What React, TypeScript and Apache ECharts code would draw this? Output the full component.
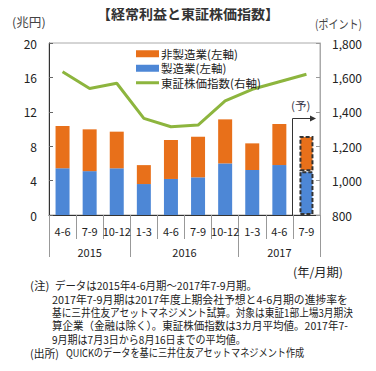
import React, { useEffect, useRef } from "react";
import * as echarts from "echarts";

const categories = ["4-6", "7-9", "10-12", "1-3", "4-6", "7-9", "10-12", "1-3", "4-6", "7-9"];
const manufacturing = [5.43, 5.1, 5.43, 3.6, 4.19, 4.38, 6.0, 5.23, 5.81, 5.1];
const nonManufacturing = [4.92, 4.86, 4.26, 2.2, 4.53, 4.72, 5.12, 3.1, 4.77, 4.09];
const topix = [1633, 1536, 1566, 1362, 1313, 1323, 1463, 1531, 1575, 1618];
const years = ["2015", "2016", "2017"];
const yearCenters = [1.5, 5, 8.5];
const yearBounds = [0, 3, 7, 10];
const forecastIndex = 9;

const FONT = "'Noto Sans CJK JP', 'Noto Sans', sans-serif";
const BLUE = "#4d87d6";
const ORANGE = "#e8701a";
const GREEN = "#8db53e";

export default function App() {
  const ref = useRef<HTMLDivElement>(null);
  useEffect(() => {
    if (!ref.current) return;
    const chart = echarts.init(ref.current, undefined, { renderer: "svg" });
    const ctx = document.createElement("canvas").getContext("2d")!;
    const dashed = {
      borderColor: "#333",
      borderWidth: 2,
      borderType: [4, 2] as any,
    };
    const manuData = manufacturing.map((v, i) =>
      i === forecastIndex ? { value: v, itemStyle: { color: BLUE, ...dashed } } : v
    );
    const nonData = nonManufacturing.map((v, i) =>
      i === forecastIndex ? { value: v, itemStyle: { color: ORANGE, ...dashed } } : v
    );
    const fitText = (
      t: string,
      x0: number,
      x1: number,
      y: number,
      size: number,
      fill = "#222"
    ) => {
      const font = `${size}px ${FONT}`;
      ctx.font = font;
      const w = ctx.measureText(t).width || 1;
      const s = Math.min(1.05, (x1 - x0) / w);
      return {
        type: "text",
        x: x0,
        y,
        scaleX: s,
        style: { text: t, font, fill, textVerticalAlign: "middle" },
      };
    };
    // [text, left x, right x, y]
    const noteLines: [string, number, number, number][] = [
      ["(注)", 30, 50, 285],
      ["データは2015年4-6月期～2017年7-9月期。", 55, 257, 285],
      ["2017年7-9月期は2017年度上期会社予想と4-6月期の進捗率を", 52, 348, 298.5],
      ["基に三井住友アセットマネジメント試算。対象は東証1部上場3月期決", 52, 353, 312],
      ["算企業（金融は除く）。東証株価指数は3カ月平均値。2017年7-", 52, 348, 325.5],
      ["9月期は7月3日から8月16日までの平均値。", 52, 246, 339],
      ["(出所)", 30, 59, 352.5],
      ["QUICKのデータを基に三井住友アセットマネジメント作成", 66, 305, 352.5],
    ];
    const notes = noteLines.map(([t, x0, x1, y]) => fitText(t, x0, x1, y, 11));
    chart.setOption({
      animation: false,
      textStyle: { fontFamily: FONT },
      grid: {
        left: 49,
        right: 56,
        top: 43,
        bottom: 156,
        show: true,
        borderColor: "#aaa",
        borderWidth: 1,
        backgroundColor: "transparent",
      },
      legend: {
        orient: "vertical",
        left: 131,
        top: 43,
        itemWidth: 23,
        itemHeight: 7,
        itemGap: 3,
        data: [
          { name: "非製造業(左軸)", icon: "rect" },
          { name: "製造業(左軸)", icon: "rect" },
          {
            name: "東証株価指数(右軸)",
            icon: "path://M0,0L0.01,0ZM0,2H23V5H0ZM23,7L22.99,7Z",
          },
        ],
        textStyle: {
          fontSize: 11.5,
          lineHeight: 11.5,
          color: "#222",
          fontFamily: FONT,
          padding: [0, 0, 0, -3],
        },
      },
      xAxis: [
        {
          type: "category",
          data: categories,
          axisLine: { lineStyle: { color: "#333", width: 1 } },
          axisTick: { show: true, length: 24, interval: 0, lineStyle: { color: "#999" } },
          axisLabel: { interval: 0, fontSize: 11, color: "#222", margin: 10, fontFamily: FONT },
        },
        {
          type: "value",
          min: 0,
          max: 10,
          position: "bottom",
          axisLine: { show: false },
          splitLine: { show: false },
          axisTick: {
            show: true,
            length: 42,
            customValues: yearBounds,
            lineStyle: { color: "#999" },
          },
          axisLabel: {
            customValues: yearCenters,
            fontSize: 11,
            color: "#222",
            margin: 31,
            fontFamily: FONT,
            formatter: (v: number) => {
              const idx = yearCenters.indexOf(v);
              return idx >= 0 ? years[idx] : "";
            },
          },
        },
      ],
      yAxis: [
        {
          type: "value",
          min: 0,
          max: 20,
          interval: 4,
          axisLine: { show: true, lineStyle: { color: "#333" } },
          axisTick: { show: true, inside: true, length: 4, lineStyle: { color: "#666" } },
          splitLine: { show: false },
          axisLabel: { fontSize: 12, color: "#222", margin: 12, fontFamily: FONT },
        },
        {
          type: "value",
          min: 800,
          max: 1800,
          interval: 200,
          axisLine: { show: true, lineStyle: { color: "#aaa" } },
          axisTick: { show: true, inside: true, length: 4, lineStyle: { color: "#999" } },
          splitLine: { show: false },
          axisLabel: {
            fontSize: 12,
            color: "#222",
            margin: 12,
            fontFamily: FONT,
            formatter: (v: number) => v.toLocaleString("en-US"),
          },
        },
      ],
      series: [
        {
          name: "製造業(左軸)",
          type: "bar",
          stack: "profit",
          barWidth: 14,
          data: manuData,
          itemStyle: { color: BLUE },
        },
        {
          name: "非製造業(左軸)",
          type: "bar",
          stack: "profit",
          barWidth: 14,
          data: nonData,
          itemStyle: { color: ORANGE },
        },
        {
          name: "東証株価指数(右軸)",
          type: "line",
          yAxisIndex: 1,
          data: topix,
          showSymbol: false,
          symbol: "none",
          lineStyle: { color: GREEN, width: 3 },
          itemStyle: { color: GREEN },
        },
      ],
      graphic: [
        {
          type: "text",
          left: "center",
          top: 6,
          style: {
            text: "【経常利益と東証株価指数】",
            font: `bold 14px ${FONT}`,
            fill: "#333",
          },
        },
        fitText("(兆円)", 12, 47, 22, 12, "#444"),
        fitText("(ポイント)", 315, 362, 24, 12, "#444"),
        fitText("(予)", 291, 313, 105, 11, "#334"),
        {
          type: "polyline",
          shape: { points: [[292.5, 215], [292.5, 118.5], [312, 118.5]] },
          style: { stroke: "#333", lineWidth: 1, fill: "none" },
        },
        {
          type: "polygon",
          shape: { points: [[310, 115.5], [316, 118.5], [310, 121.5]] },
          style: { fill: "#333" },
        },
        fitText("(年/月期)", 293, 343, 272, 12),
        ...notes,
      ],
    });
    return () => chart.dispose();
  }, []);
  return <div ref={ref} style={{ width: 376, height: 371, margin: -8 }} />;
}
